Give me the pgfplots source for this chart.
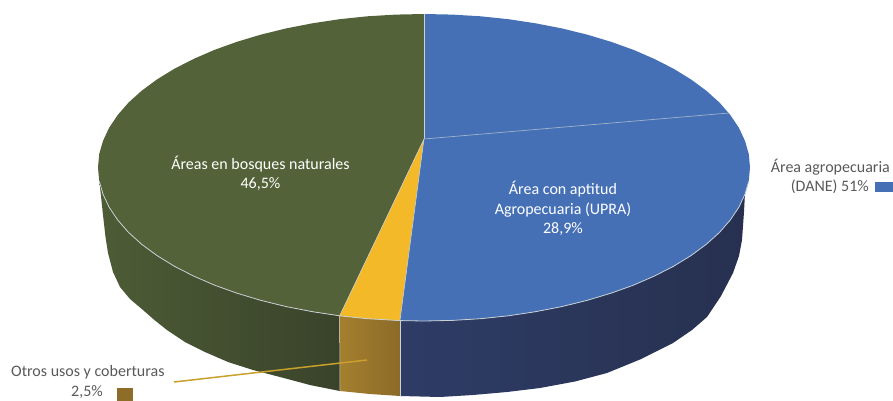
\documentclass[border=0pt]{standalone}
\usepackage{pgfplots}
\pgfplotsset{compat=1.18}
\usepackage{fontspec}
\setmainfont{Carlito}
\definecolor{gtop}{HTML}{536238}
\definecolor{btop}{HTML}{4570B5}
\definecolor{ytop}{HTML}{F4B928}
\definecolor{sep}{HTML}{C9D0D6}
\definecolor{lab}{HTML}{595959}
\definecolor{lead}{HTML}{C9A02A}
\definecolor{gsa}{HTML}{4D5C36}
\definecolor{gsb}{HTML}{39432A}
\definecolor{ysa}{HTML}{A47F2F}
\definecolor{ysb}{HTML}{8C6B28}
\definecolor{bsa}{HTML}{2E3C66}
\definecolor{bsb}{HTML}{27304F}
\begin{document}
\begin{tikzpicture}
\path[use as bounding box] (0,0) rectangle (893pt,401pt);
\begin{axis}[
  at={(0,0)}, anchor=south west,
  scale only axis, width=893pt, height=401pt,
  xmin=0, xmax=893, ymin=0, ymax=401, y dir=reverse,
  hide axis, clip=false,
  every axis plot/.append style={no markers, line join=round},
]
% --- side walls ---
\addplot[draw=none, left color=gsa, right color=gsb] coordinates {
(99.2,180.9)(103.0,194.1)(109.1,207.2)(117.7,220.0)(128.5,232.4)(141.7,244.3)(156.9,255.5)(174.3,266.2)(193.5,276.0)(214.4,285.1)(237.0,293.2)(261.0,300.4)(286.2,306.6)(312.5,311.7)(339.6,315.8)
(340,391)(310,385)(280,377)(253,370)(228,362)(205,352)(185,342)(167,330)(155,320.5)(143,310)(130,299)(120,287)(113,272)(108,253)(105.5,237)(103,215)(100,187)} -- cycle;
\addplot[draw=none, left color=ysa, right color=ysb] coordinates {
(339.6,315.8)(367.4,318.7)(400,320.6)(400,396)(370,394)(340,391)} -- cycle;
\addplot[draw=none, left color=bsa, right color=bsb] coordinates {
(400,320.6)(424,321)(452.4,320.4)(480.6,318.7)(508.4,315.8)(535.5,311.7)(561.8,306.6)(587.0,300.4)(611.0,293.2)(633.6,285.1)(654.5,276.0)(673.7,266.2)(691.1,255.5)(706.3,244.3)(719.5,232.4)(730.3,220.0)(738.9,207.2)(745.0,194.1)(748.8,180.9)
(745.5,183)(744,212)(742,240)(739,256)(733,273)(721,296)(707,317)(692,330)(673,343)(640,359.5)(607,373)(575,381.5)(540,388)(507,392)(473,395)(440,397)(400,396)} -- cycle;
% --- top face ---
\addplot[fill=gtop, draw=none] coordinates {
(424,139)(424,14)(395.6,14.6)(367.4,16.3)(339.6,19.2)(312.5,23.3)(286.2,28.4)(261.0,34.6)(237.0,41.8)(214.4,49.9)(193.5,59.0)(174.3,68.8)(156.9,79.5)(141.7,90.7)(128.5,102.6)(117.7,115.0)(109.1,127.8)(103.0,140.9)(99.2,154.1)(98,167.5)(99.2,180.9)(103.0,194.1)(109.1,207.2)(117.7,220.0)(128.5,232.4)(141.7,244.3)(156.9,255.5)(174.3,266.2)(193.5,276.0)(214.4,285.1)(237.0,293.2)(261.0,300.4)(286.2,306.6)(312.5,311.7)(339.6,315.8)} -- cycle;
\addplot[fill=ytop, draw=none] coordinates {
(424,139)(339.6,315.8)(367.4,318.7)(400,320.6)} -- cycle;
\addplot[fill=btop, draw=none] coordinates {
(424,139)(400,320.6)(424,321)(452.4,320.4)(480.6,318.7)(508.4,315.8)(535.5,311.7)(561.8,306.6)(587.0,300.4)(611.0,293.2)(633.6,285.1)(654.5,276.0)(673.7,266.2)(691.1,255.5)(706.3,244.3)(719.5,232.4)(730.3,220.0)(738.9,207.2)(745.0,194.1)(748.8,180.9)(750,167.5)(748.8,154.1)(745,140.9)(738.9,127.8)(730.3,115.0)(719.5,102.6)(706.3,90.7)(691.1,79.5)(673.7,68.8)(654.5,59.0)(633.6,49.9)(611.0,41.8)(587.0,34.6)(561.8,28.4)(535.5,23.3)(508.4,19.2)(480.6,16.3)(452.4,14.6)(424,14)} -- cycle;
% --- separators and rim ---
\addplot[sep, line width=0.7pt] coordinates {(424,14)(424,139)};
\addplot[sep!70!btop, line width=0.7pt] coordinates {(424,139)(729,113)};
\addplot[sep, line width=0.8pt] coordinates {
(99.2,180.9)(103.0,194.1)(109.1,207.2)(117.7,220.0)(128.5,232.4)(141.7,244.3)(156.9,255.5)(174.3,266.2)(193.5,276.0)(214.4,285.1)(237.0,293.2)(261.0,300.4)(286.2,306.6)(312.5,311.7)(339.6,315.8)(367.4,318.7)(400,320.6)(424,321)(452.4,320.4)(480.6,318.7)(508.4,315.8)(535.5,311.7)(561.8,306.6)(587.0,300.4)(611.0,293.2)(633.6,285.1)(654.5,276.0)(673.7,266.2)(691.1,255.5)(706.3,244.3)(719.5,232.4)(730.3,220.0)(738.9,207.2)(745.0,194.1)(748.8,180.9)};
\addplot[sep, line width=0.5pt] coordinates {(339.6,315.8)(340,391)};
\addplot[sep, line width=0.5pt] coordinates {(400,320.6)(400,396)};
\addplot[sep, line width=0.5pt] coordinates {(339.6,315.8)(424,139)(400,320.6)};
% --- leader line and legend keys ---
\addplot[lead, line width=1.5pt] coordinates {(174,382)(367,360)};
\addplot[fill=btop, draw=none] coordinates {(875,182)(893,182)(893,192)(875,192)} -- cycle;
\addplot[fill=ysb!90!ysa, draw=none] coordinates {(117,388)(133,388)(133,401)(117,401)} -- cycle;
% --- labels ---
\node[white, align=center, font=\fontsize{16}{19.5}\selectfont] at (axis cs:260.5,173.5) {Áreas en bosques naturales\\46,5\%};
\node[white, align=center, font=\fontsize{16}{19.5}\selectfont] at (axis cs:563,208.5) {Área con aptitud\\Agropecuaria (UPRA)\\28,9\%};
\node[lab, anchor=east, inner xsep=0pt, font=\fontsize{16}{19.5}\selectfont] at (axis cs:890,167) {Área agropecuaria};
\node[lab, anchor=east, inner xsep=0pt, font=\fontsize{16}{19.5}\selectfont] at (axis cs:869,187) {(DANE) 51\%};
\node[lab, anchor=west, inner xsep=0pt, font=\fontsize{16}{19.5}\selectfont] at (axis cs:11,372) {Otros usos y coberturas};
\node[lab, anchor=east, inner xsep=0pt, font=\fontsize{16}{19.5}\selectfont] at (axis cs:103,392) {2,5\%};
\end{axis}
\end{tikzpicture}
\end{document}
